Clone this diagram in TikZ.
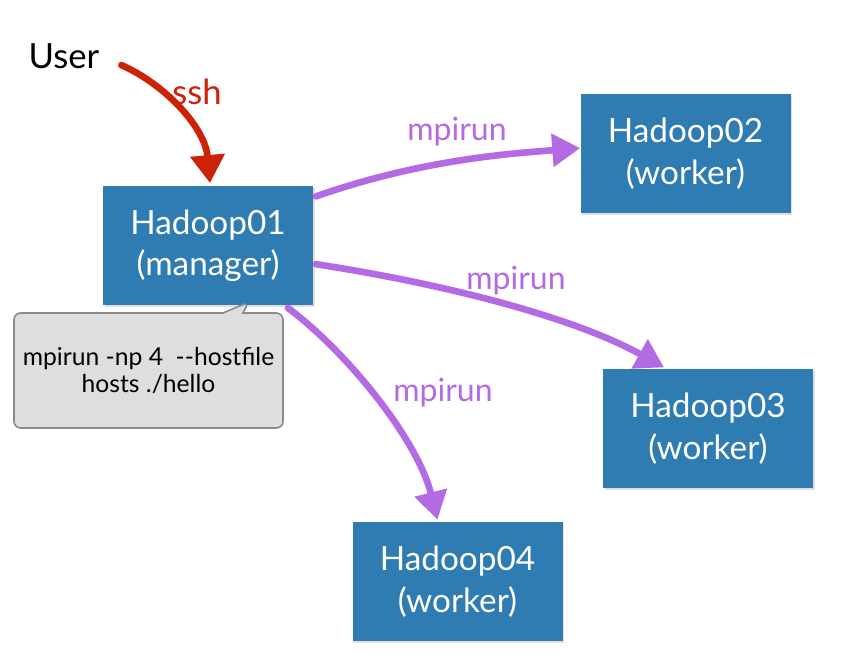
\documentclass[tikz,border=0pt]{standalone}
\usepackage{fontspec}
\setmainfont{Lato}
\usetikzlibrary{arrows.meta,positioning,shapes.callouts,shadows}
\definecolor{boxblue}{RGB}{46,124,177}
\definecolor{mpipurple}{RGB}{180,106,226}
\definecolor{sshred}{RGB}{204,34,8}
\definecolor{notegray}{RGB}{221,222,224}
\definecolor{noteedge}{RGB}{138,138,140}
\tikzset{
	host/.style={fill=boxblue, text=white, align=center, minimum width=157.5pt, minimum height=89.25pt,
		font=\fontsize{25}{31}\selectfont, drop shadow={opacity=0.25, shadow xshift=1.2pt, shadow yshift=-1.2pt}},
	cmdnote/.style={rectangle callout, draw=noteedge, line width=1.2pt, fill=notegray, rounded corners=5pt,
		align=center, minimum width=201.75pt, minimum height=86.25pt, callout pointer width=15pt,
		font=\fontsize{18.5}{20.5}\selectfont},
	sshline/.style={draw=sshred, line width=5pt, line cap=round, -{Triangle[length=21pt, width=25pt]}},
	mpiline/.style={draw=mpipurple, line width=5pt, line cap=round, -{Triangle[length=21pt, width=24pt]}},
	mpilabel/.style={text=mpipurple, anchor=base, font=\fontsize{24}{28}\selectfont}
}
\begin{document}
\begin{tikzpicture}[x=0.75pt, y=-0.75pt]
	\useasboundingbox (0,0) rectangle (849,665);
	\node[anchor=base, font=\fontsize{26}{30}\selectfont] (user) at (64,68) {User};
	\node[host] (hadoop01) at (208,245.5) {Hadoop01\\(manager)};
	\node[host] (hadoop02) at (685.5,153.5) {Hadoop02\\(worker)};
	\node[host] (hadoop03) at (708,428.5) {Hadoop03\\(worker)};
	\node[host] (hadoop04) at (457.5,581.5) {Hadoop04\\(worker)};
	\coordinate (tip) at (249,302);
	\node[cmdnote, callout absolute pointer=(tip)] (cmd) at (148.5,370.5) {mpirun -np 4 \ {-}{-}hostfile\\hosts ./hello};
	% labels on the arrows
	\node[text=sshred, anchor=base, font=\fontsize{26}{30}\selectfont] (sshlabel) at (197,104) {ssh};
	\node[mpilabel] (mpi02) at (457,140) {mpirun};
	\node[mpilabel] (mpi03) at (516,289) {mpirun};
	\node[mpilabel] (mpi04) at (443,401) {mpirun};
	% connections
	\draw[sshline] ([xshift=13pt, yshift=-7pt]user.east) .. controls +(45,20) and +(-5,-55) .. ([xshift=1.5pt, yshift=2pt]hadoop01.north);
	\draw[mpiline] ([xshift=2pt, yshift=-8pt]hadoop01.north east) .. controls +(100,-35) and +(-80,6) .. ([yshift=4pt]hadoop02.west);
	\draw[mpiline] ([xshift=2pt, yshift=-14pt]hadoop01.east) .. controls +(130,20) and +(-90,-50) .. ([xshift=46pt, yshift=1pt]hadoop03.north west);
	\draw[mpiline] ([xshift=-19pt, yshift=-2pt]hadoop01.south east) .. controls +(60,45) and +(-20,-80) .. ([xshift=-15pt, yshift=1.5pt]hadoop04.north);
\end{tikzpicture}
\end{document}
